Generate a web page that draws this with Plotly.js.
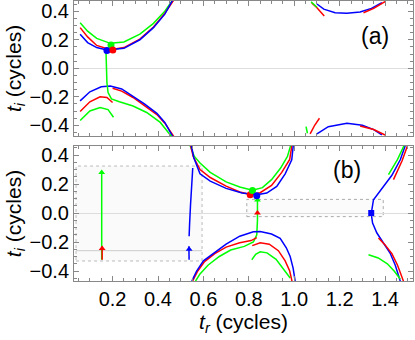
<!DOCTYPE html>
<html>
<head>
<meta charset="utf-8">
<script src="https://cdn.plot.ly/plotly-3.0.1.min.js"></script>
<style>
  html, body { margin: 0; padding: 0; background: #fff; }
  #plot { width: 415px; height: 340px; }
</style>
</head>
<body>
<div id="plot"></div>
<script>
// ===== DATA ([t_r, t_i] pairs in cycles) =====

// panel (a)
const aGreenUp = [[0.057,0.32],[0.09,0.26],[0.13,0.21],[0.19,0.175],[0.25,0.185],[0.32,0.24],[0.38,0.315],[0.43,0.40],[0.465,0.48]];
const aRedUp = [[0.057,0.285],[0.09,0.22],[0.13,0.16],[0.19,0.13],[0.25,0.145],[0.32,0.205],[0.38,0.29],[0.43,0.385],[0.47,0.48]];
const aBlueUp = [[0.057,0.238],[0.09,0.18],[0.13,0.145],[0.175,0.128],[0.25,0.14],[0.32,0.2],[0.38,0.285],[0.43,0.38],[0.465,0.48]];
const aGreenMid = [[0.171,0.11],[0.172,0.0],[0.175,-0.1],[0.18,-0.17],[0.195,-0.215],[0.23,-0.235],[0.29,-0.265],[0.35,-0.31],[0.41,-0.38],[0.46,-0.48]];
const aBlueLow = [[0.057,-0.229],[0.1,-0.165],[0.15,-0.13],[0.19,-0.124],[0.24,-0.145],[0.29,-0.195],[0.34,-0.25],[0.395,-0.316],[0.43,-0.38],[0.465,-0.48]];
const aRedLowL = [[0.057,-0.304],[0.1,-0.235],[0.145,-0.2],[0.175,-0.205],[0.2,-0.24]];
const aRedLowR = [[0.2,-0.14],[0.24,-0.16],[0.29,-0.205],[0.34,-0.26],[0.395,-0.325],[0.43,-0.385],[0.47,-0.48]];
const aGreenLowL = [[0.057,-0.367],[0.1,-0.3],[0.145,-0.276],[0.18,-0.29],[0.204,-0.344]];
const aBlueTopR = [[1.10,0.451],[1.13,0.415],[1.18,0.39],[1.232,0.386],[1.29,0.395],[1.34,0.42],[1.386,0.46]];
const aRedTopR1 = [[1.077,0.458],[1.1,0.425],[1.132,0.367]];
const aRedTopR2 = [[1.305,0.39],[1.35,0.42],[1.40,0.468]];
const aGreenTopR = [[1.074,0.467],[1.10,0.428]];
const aGreenBotR = [[1.052,-0.41],[1.058,-0.456]];
const aRedBotR1 = [[1.07,-0.46],[1.09,-0.40],[1.111,-0.351]];
const aBlueBotR = [[1.10,-0.461],[1.15,-0.41],[1.232,-0.386],[1.30,-0.40],[1.35,-0.43],[1.386,-0.468]];
const aRedBotR2 = [[1.29,-0.405],[1.35,-0.43],[1.40,-0.468]];
const aDots = { green: [0.193,0.163], blue: [0.175,0.124], red: [0.201,0.128] };

// panel (b)
const bGreenVert = [[0.152,0.28],[0.152,-0.322]];
const bRedVert = [[0.154,-0.23],[0.154,-0.322]];
const bBlueVert = [[0.553,0.31],[0.548,0.2],[0.543,0.05],[0.539,-0.08],[0.537,-0.16]];
const bBlueVert2 = [[0.536,-0.23],[0.537,-0.322]];
const bGreenU = [[0.54,0.47],[0.56,0.39],[0.585,0.345],[0.63,0.28],[0.70,0.215],[0.76,0.18],[0.816,0.158],[0.86,0.175],[0.90,0.23],[0.94,0.31],[0.97,0.39],[0.985,0.47]];
const bRedU = [[0.543,0.47],[0.555,0.39],[0.585,0.30],[0.63,0.245],[0.70,0.185],[0.76,0.145],[0.806,0.128],[0.85,0.14],[0.90,0.19],[0.945,0.28],[0.98,0.37],[0.99,0.47]];
const bBlueU = [[0.546,0.47],[0.558,0.38],[0.585,0.27],[0.63,0.22],[0.70,0.17],[0.77,0.138],[0.835,0.126],[0.879,0.138],[0.923,0.184],[0.96,0.27],[0.989,0.367],[0.996,0.47]];
const bBlueLow = [[0.549,-0.47],[0.57,-0.40],[0.60,-0.33],[0.65,-0.27],[0.70,-0.215],[0.76,-0.16],[0.82,-0.13],[0.85,-0.127],[0.90,-0.145],[0.938,-0.175],[0.965,-0.24],[0.982,-0.30],[0.995,-0.38],[1.004,-0.47]];
const bRedLowL = [[0.552,-0.47],[0.575,-0.40],[0.605,-0.335],[0.65,-0.28],[0.70,-0.235],[0.76,-0.205],[0.81,-0.19],[0.835,-0.17]];
const bRedLow2 = [[0.815,-0.225],[0.85,-0.205],[0.89,-0.215],[0.93,-0.26],[0.96,-0.33],[0.98,-0.40],[0.99,-0.47]];
const bGreenLowL = [[0.565,-0.47],[0.585,-0.42],[0.62,-0.36],[0.67,-0.30],[0.72,-0.255],[0.78,-0.23],[0.82,-0.2],[0.835,-0.15],[0.838,-0.05],[0.838,0.09]];
const bGreenLow2 = [[0.813,-0.322],[0.83,-0.285],[0.85,-0.268],[0.88,-0.275],[0.92,-0.32],[0.955,-0.39],[0.982,-0.448]];
const bBlueS = [[1.49,0.47],[1.467,0.367],[1.43,0.26],[1.38,0.16],[1.349,0.092],[1.339,-0.005],[1.345,-0.07],[1.364,-0.138],[1.395,-0.21],[1.422,-0.276],[1.445,-0.36],[1.467,-0.47]];
const bRedTopR = [[1.50,0.47],[1.475,0.36],[1.437,0.23]];
const bGreenTopR = [[1.485,0.47],[1.455,0.37],[1.415,0.264]];
const bRedLowR = [[1.371,-0.172],[1.40,-0.22],[1.43,-0.28],[1.455,-0.36],[1.481,-0.47]];
const bGreenLowR = [[1.327,-0.288],[1.37,-0.31],[1.41,-0.35],[1.44,-0.40],[1.467,-0.455]];
const bDots = { red: [0.806,0.126], green: [0.816,0.156], blue: [0.835,0.119] };
const bArrows = { green: [[0.152,0.28],[0.838,0.09]], red: [[0.154,-0.245],[0.838,0.0]], blue: [[0.537,-0.25]] };
const bSquares = { blue: [[1.339,0.0]] };

// boxes drawn in panel (b): [x0, x1, y0, y1]
const bigBox = [0.039, 0.594, -0.331, 0.324];
const smallBox = [0.791, 1.392, -0.025, 0.094];
const bigBoxLineY = -0.26;

// ===== PLOT =====
const COLORS = { green: '#00ff00', red: '#ff0000', blue: '#0000ff' };
const FONT = 'Liberation Sans, Arial, sans-serif';

function line(pts, color, panel) {
    return {
        x: pts.map(p => p[0]), y: pts.map(p => p[1]),
        mode: 'lines', line: { color: COLORS[color], width: 1.5 },
        xaxis: panel === 'a' ? 'x2' : 'x', yaxis: panel === 'a' ? 'y2' : 'y',
        hoverinfo: 'skip', showlegend: false,
    };
}

function marks(pts, color, panel, symbol, size) {
    return {
        x: pts.map(p => p[0]), y: pts.map(p => p[1]),
        mode: 'markers', marker: { color: COLORS[color], size: size, symbol: symbol },
        xaxis: panel === 'a' ? 'x2' : 'x', yaxis: panel === 'a' ? 'y2' : 'y',
        hoverinfo: 'skip', showlegend: false,
    };
}

const traces = [
    line(aGreenUp, 'green', 'a'), line(aRedUp, 'red', 'a'), line(aBlueUp, 'blue', 'a'),
    line(aRedLowR, 'red', 'a'), line(aBlueLow, 'blue', 'a'), line(aGreenMid, 'green', 'a'),
    line(aRedLowL, 'red', 'a'), line(aGreenLowL, 'green', 'a'),
    line(aBlueTopR, 'blue', 'a'), line(aRedTopR1, 'red', 'a'), line(aRedTopR2, 'red', 'a'),
    line(aGreenTopR, 'green', 'a'), line(aGreenBotR, 'green', 'a'), line(aRedBotR1, 'red', 'a'),
    line(aBlueBotR, 'blue', 'a'), line(aRedBotR2, 'red', 'a'),
    marks([aDots.green], 'green', 'a', 'circle', 7),
    marks([aDots.blue], 'blue', 'a', 'circle', 7),
    marks([aDots.red], 'red', 'a', 'circle', 7),

    line(bGreenVert, 'green', 'b'), line(bRedVert, 'red', 'b'),
    line(bBlueVert, 'blue', 'b'), line(bBlueVert2, 'blue', 'b'),
    line(bGreenU, 'green', 'b'), line(bRedU, 'red', 'b'), line(bBlueU, 'blue', 'b'),
    line(bGreenLowL, 'green', 'b'), line(bRedLowL, 'red', 'b'), line(bBlueLow, 'blue', 'b'),
    line(bRedLow2, 'red', 'b'), line(bGreenLow2, 'green', 'b'),
    line(bBlueS, 'blue', 'b'), line(bRedTopR, 'red', 'b'), line(bGreenTopR, 'green', 'b'),
    line(bRedLowR, 'red', 'b'), line(bGreenLowR, 'green', 'b'),
    marks(bArrows.green, 'green', 'b', 'triangle-up', 6),
    marks(bArrows.red, 'red', 'b', 'triangle-up', 6),
    marks(bArrows.blue, 'blue', 'b', 'triangle-up', 6),
    marks(bSquares.blue, 'blue', 'b', 'square', 6),
    marks([bDots.red], 'red', 'b', 'circle', 7),
    marks([bDots.green], 'green', 'b', 'circle', 7),
    marks([bDots.blue], 'blue', 'b', 'circle', 7),
];

const frame = '#888';
const baseAxis = {
    showline: true, linecolor: frame, linewidth: 1, mirror: 'ticks',
    ticks: 'inside', ticklen: 5, tickcolor: frame, tickwidth: 1,
    minor: { ticks: 'inside', ticklen: 3, tickcolor: frame, dtick: 0.05 },
    showgrid: false, zeroline: false,
    tickfont: { family: FONT, size: 20, color: '#000' },
    tickformat: '.1f', dtick: 0.2, tick0: 0,
};
const titleFont = { family: FONT, size: 21, color: '#000' };

const layout = {
    width: 415, height: 340,
    margin: { l: 74, r: 2, t: 1, b: 59 },
    paper_bgcolor: '#fff', plot_bgcolor: '#fff',
    showlegend: false,
    xaxis: Object.assign({}, baseAxis, {
        anchor: 'y', domain: [0, 1], range: [0.03, 1.523],
        title: { text: '<i>t</i><sub><i>r</i></sub> (cycles)', font: titleFont, standoff: 4 },
    }),
    xaxis2: Object.assign({}, baseAxis, {
        anchor: 'y2', matches: 'x', range: [0.03, 1.523], showticklabels: false,
    }),
    yaxis: Object.assign({}, baseAxis, {
        anchor: 'x', domain: [0, 0.482], range: [-0.469, 0.462],
        zeroline: true, zerolinecolor: '#ddd', zerolinewidth: 1,
        title: { text: '<i>t</i><sub><i>i</i></sub> (cycles)', font: titleFont, standoff: 2 },
    }),
    yaxis2: Object.assign({}, baseAxis, {
        anchor: 'x2', domain: [0.518, 1], range: [-0.475, 0.472],
        zeroline: true, zerolinecolor: '#ddd', zerolinewidth: 1,
        title: { text: '<i>t</i><sub><i>i</i></sub> (cycles)', font: titleFont, standoff: 2 },
    }),
    shapes: [
        { type: 'rect', xref: 'x', yref: 'y', x0: bigBox[0], x1: bigBox[1], y0: bigBox[2], y1: bigBox[3],
          fillcolor: 'rgba(0,0,0,0.018)', line: { color: '#bbb', width: 1, dash: 'dot' }, layer: 'below' },
        { type: 'line', xref: 'x', yref: 'y', x0: bigBox[0], x1: bigBox[1], y0: bigBoxLineY, y1: bigBoxLineY,
          line: { color: '#ccc', width: 1 }, layer: 'below' },
        { type: 'rect', xref: 'x', yref: 'y', x0: smallBox[0], x1: smallBox[1], y0: smallBox[2], y1: smallBox[3],
          fillcolor: 'rgba(0,0,0,0.015)', line: { color: '#aaa', width: 1, dash: 'dot' }, layer: 'below' },
    ],
    annotations: [
        { text: '(a)', xref: 'paper', yref: 'paper', x: 0.935, y: 0.929, showarrow: false,
          font: { family: FONT, size: 23, color: '#000' } },
        { text: '(b)', xref: 'paper', yref: 'paper', x: 0.853, y: 0.396, showarrow: false,
          font: { family: FONT, size: 23, color: '#000' } },
    ],
};

Plotly.newPlot('plot', traces, layout, { displayModeBar: false, staticPlot: true });
</script>
</body>
</html>
